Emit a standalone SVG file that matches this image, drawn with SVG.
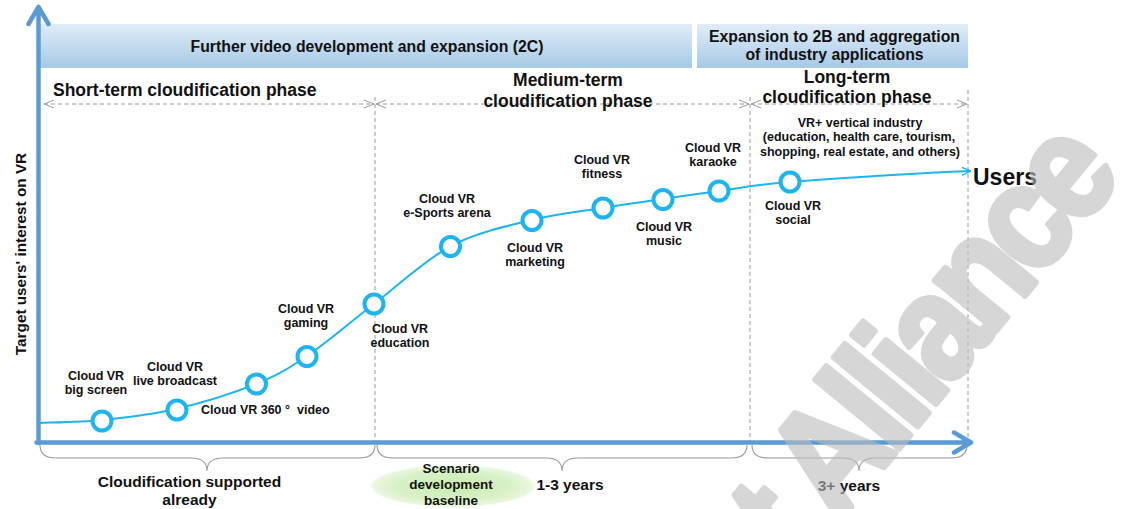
<svg xmlns="http://www.w3.org/2000/svg" width="1125" height="509" viewBox="0 0 1125 509">
  <defs>
    <linearGradient id="barFill" x1="0" y1="0" x2="0" y2="1">
      <stop offset="0" stop-color="#e1edf8"/>
      <stop offset="1" stop-color="#a6c9e7"/>
    </linearGradient>
    <radialGradient id="baseFill" cx="0.5" cy="0.5" r="0.5">
      <stop offset="0" stop-color="#c8ebb0"/>
      <stop offset="0.7" stop-color="#d8f1c7"/>
      <stop offset="0.95" stop-color="#e9f7de"/>
      <stop offset="1" stop-color="#f4fbee"/>
    </radialGradient>
    <marker id="dashArrow" viewBox="0 0 10 10" refX="10" refY="5" markerWidth="10" markerHeight="10" markerUnits="userSpaceOnUse" orient="auto-start-reverse">
      <path d="M0,1 L10,5 L0,9" fill="none" stroke="#9a9a9a" stroke-width="1"/>
    </marker>
    <marker id="curveArrow" viewBox="0 0 10 10" refX="10" refY="5" markerWidth="10" markerHeight="10" markerUnits="userSpaceOnUse" orient="auto">
      <path d="M1,1 L10,5 L1,9" fill="none" stroke="#1eb4f0" stroke-width="1.4"/>
    </marker>
  </defs>
  <style>
    text { font-family: "Liberation Sans", Arial, sans-serif; font-weight: bold; fill: #111; }
    .lbl { font-size: 12.5px; text-anchor: middle; }
    .base-lbl { font-size: 13.5px; text-anchor: middle; }
    .hdr { font-size: 15.8px; text-anchor: middle; }
    .phase { font-size: 17.5px; text-anchor: middle; }
    .brace-lbl { font-size: 15.5px; text-anchor: middle; }
    .guide { stroke: #9a9a9a; stroke-width: 1; stroke-dasharray: 4 3; fill: none; }
    .brace { stroke: #9a9a9a; stroke-width: 1.1; fill: none; }
    .axis { stroke: #5b9bd5; stroke-width: 4.5; fill: none; stroke-linecap: round; stroke-linejoin: round; }
    .node { fill: #ffffff; stroke: #1eb4f0; stroke-width: 4; }
  </style>

  <!-- header bars -->
  <g id="bar-2c">
    <rect x="40" y="24" width="652" height="44" fill="url(#barFill)"/>
    <text class="hdr" x="367" y="52">Further video development and expansion (2C)</text>
  </g>
  <g id="bar-2b">
    <rect x="697" y="24" width="271" height="44" fill="url(#barFill)"/>
    <text class="hdr" x="834.5" y="42">Expansion to 2B and aggregation</text>
    <text class="hdr" x="834.5" y="60">of industry applications</text>
  </g>

  <!-- phase guides -->
  <g id="phase-guides">
    <line class="guide" x1="375" y1="97" x2="375" y2="444"/>
    <line class="guide" x1="750" y1="97" x2="750" y2="446"/>
    <line class="guide" x1="968" y1="90" x2="968" y2="444"/>
    <line class="guide" x1="44" y1="104" x2="374" y2="104" marker-start="url(#dashArrow)" marker-end="url(#dashArrow)"/>
    <line class="guide" x1="376" y1="104" x2="749" y2="104" marker-start="url(#dashArrow)" marker-end="url(#dashArrow)"/>
    <line class="guide" x1="751" y1="104" x2="967" y2="104" marker-start="url(#dashArrow)" marker-end="url(#dashArrow)"/>
  </g>
  <g id="phase-short">
    <text class="phase" x="53" y="96" style="text-anchor:start">Short-term cloudification phase</text>
  </g>
  <g id="phase-medium">
    <text class="phase" x="568" y="86">Medium-term</text>
    <text class="phase" x="568" y="107">cloudification phase</text>
  </g>
  <g id="phase-long">
    <text class="phase" x="847" y="83">Long-term</text>
    <text class="phase" x="847" y="103">cloudification phase</text>
  </g>
  <g id="vertical-industry">
    <text class="lbl" x="860" y="127">VR+ vertical industry</text>
    <text class="lbl" x="859" y="141">(education, health care, tourism,</text>
    <text class="lbl" x="860" y="156">shopping, real estate, and others)</text>
  </g>

  <!-- axes -->
  <g id="axes">
    <path class="axis" d="M38.5,443 L38.5,7 M28.5,24 L38.5,7 L48.5,24"/>
    <path class="axis" d="M36.5,442.5 L971,442.5 M954,432.5 L971,442.5 L954,452.5"/>
  </g>
  <text id="y-label" x="0" y="0" transform="translate(26,254) rotate(-90)" style="font-size:15.3px;text-anchor:middle">Target users' interest on VR</text>

  <!-- adoption curve -->
  <g id="connectors">
    <path d="M40,423 C50.3,422.5 79.3,422.3 102,420 C124.7,417.7 150.3,415 176,409 C201.7,403 234.2,392.8 256,384 C277.8,375.2 287.3,369.3 307,356 C326.7,342.7 350,322.3 374,304 C398,285.7 424.7,260 451,246 C477.3,232 506.7,226.3 532,220 C557.3,213.7 581.2,211.5 603,208 C624.8,204.5 643.7,201.8 663,199 C682.3,196.2 697.8,193.8 719,191 C740.2,188.2 748.5,185.5 790,182 C850,177.5 910,173.5 971,171" fill="none" stroke="#1eb4f0" stroke-width="2" marker-end="url(#curveArrow)"/>
  </g>
  <text id="users" x="973" y="185" style="font-size:23px">Users</text>

  <!-- scenario nodes -->
  <g id="node-big-screen">
    <circle class="node" cx="102" cy="421" r="9.5"/>
    <text class="lbl" x="96" y="380">Cloud VR</text>
    <text class="lbl" x="96" y="394">big screen</text>
  </g>
  <g id="node-live">
    <circle class="node" cx="177" cy="410" r="9.5"/>
    <text class="lbl" x="175" y="371">Cloud VR</text>
    <text class="lbl" x="175" y="385">live broadcast</text>
  </g>
  <g id="node-360">
    <circle class="node" cx="256.5" cy="384" r="9.5"/>
    <text class="lbl" x="201" y="414" style="text-anchor:start;white-space:pre">Cloud VR 360 °  video</text>
  </g>
  <g id="node-gaming">
    <circle class="node" cx="307" cy="356.5" r="9.5"/>
    <text class="lbl" x="306" y="313">Cloud VR</text>
    <text class="lbl" x="306" y="327">gaming</text>
  </g>
  <g id="node-education">
    <circle class="node" cx="374" cy="304" r="9.5"/>
    <text class="lbl" x="400" y="333">Cloud VR</text>
    <text class="lbl" x="400" y="347">education</text>
  </g>
  <g id="node-esports">
    <circle class="node" cx="450.5" cy="246.5" r="9.5"/>
    <text class="lbl" x="447" y="203">Cloud VR</text>
    <text class="lbl" x="447" y="217">e-Sports arena</text>
  </g>
  <g id="node-marketing">
    <circle class="node" cx="532" cy="220.5" r="9.5"/>
    <text class="lbl" x="535" y="252">Cloud VR</text>
    <text class="lbl" x="535" y="266">marketing</text>
  </g>
  <g id="node-fitness">
    <circle class="node" cx="603" cy="208" r="9.5"/>
    <text class="lbl" x="602" y="164">Cloud VR</text>
    <text class="lbl" x="602" y="178">fitness</text>
  </g>
  <g id="node-music">
    <circle class="node" cx="663" cy="199.5" r="9.5"/>
    <text class="lbl" x="664" y="231">Cloud VR</text>
    <text class="lbl" x="664" y="245">music</text>
  </g>
  <g id="node-karaoke">
    <circle class="node" cx="719" cy="191" r="9.5"/>
    <text class="lbl" x="713" y="152">Cloud VR</text>
    <text class="lbl" x="713" y="166">karaoke</text>
  </g>
  <g id="node-social">
    <circle class="node" cx="790" cy="182" r="9.5"/>
    <text class="lbl" x="793" y="210">Cloud VR</text>
    <text class="lbl" x="793" y="224">social</text>
  </g>

  <!-- time spans under the axis -->
  <g id="span-now">
    <path class="brace" d="M40,445 Q40,458 56,458 L191,458 Q207,458 207,471 Q207,458 223,458 L359,458 Q375,458 375,445"/>
    <text class="brace-lbl" x="189.5" y="487">Cloudification supported</text>
    <text class="brace-lbl" x="189.5" y="505">already</text>
  </g>
  <g id="span-1-3">
    <path class="brace" d="M377,445 Q377,458 393,458 L546,458 Q562,458 562,471 Q562,458 578,458 L731,458 Q747,458 747,445"/>
    <text class="brace-lbl" x="570" y="490">1-3 years</text>
  </g>
  <g id="baseline">
    <ellipse cx="453" cy="486" rx="82" ry="21" fill="url(#baseFill)"/>
    <text class="base-lbl" x="451" y="473">Scenario</text>
    <text class="base-lbl" x="451" y="489">development</text>
    <text class="base-lbl" x="451" y="505">baseline</text>
  </g>
  <g id="span-3plus">
    <path class="brace" d="M752,445 Q752,458 768,458 L843,458 Q859,458 859,471 Q859,458 875,458 L951,458 Q967,458 967,445"/>
    <text class="brace-lbl" x="849" y="491">3+ years</text>
  </g>

  <!-- watermark: heavy tightly-set lettering laid diagonally -->
  <g id="watermark" opacity="0.6">
    <text x="0" y="0" transform="translate(1120,180) rotate(-50.6) scale(0.88,1)" style="font-size:150px;letter-spacing:-8.7px;text-anchor:end;fill:#bcbcbc;stroke:#bcbcbc;stroke-width:6;stroke-linejoin:round">t Alliance</text>
  </g>
</svg>
